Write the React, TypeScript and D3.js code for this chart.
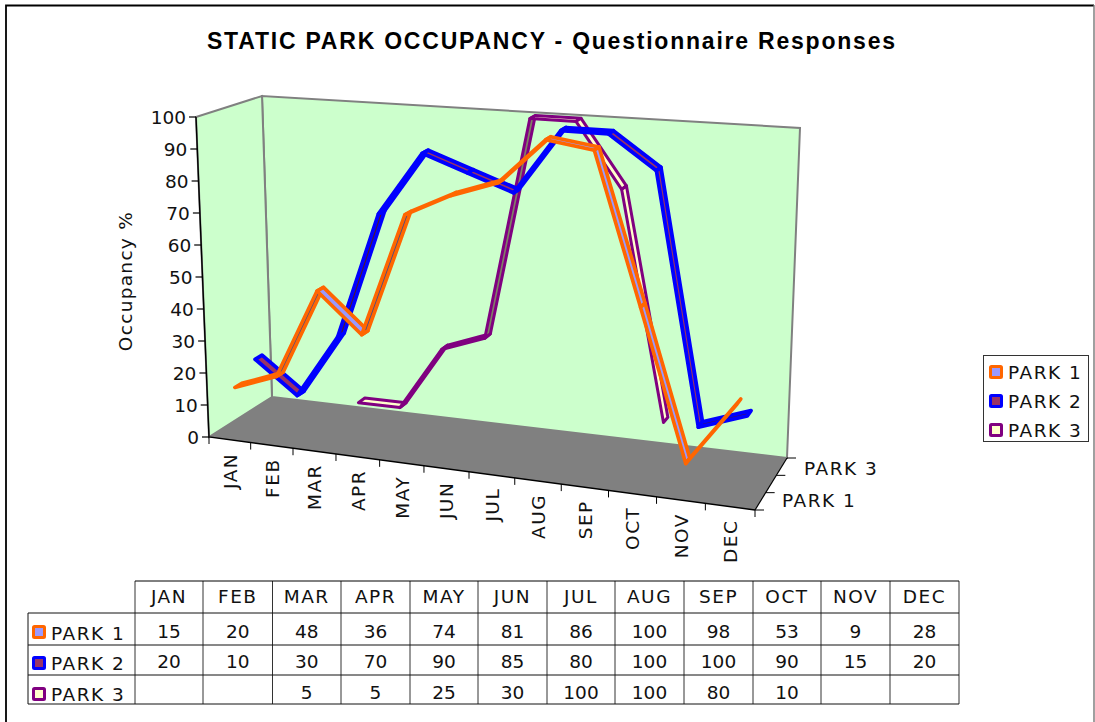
import React from "react";
import * as d3 from "d3";

const months = ["JAN","FEB","MAR","APR","MAY","JUN","JUL","AUG","SEP","OCT","NOV","DEC"];
const park1: (number|null)[] = [15,20,48,36,74,81,86,100,98,53,9,28];
const park2: (number|null)[] = [20,10,30,70,90,85,80,100,100,90,15,20];
const park3: (number|null)[] = [null,null,5,5,25,30,100,100,80,10,null,null];
const yTicks = [0,10,20,30,40,50,60,70,80,90,100];
const parkNames = ["PARK 1","PARK 2","PARK 3"];
const strokes = ["#FF6600","#0000FF","#800080"];
const fills = ["#9999FF","#993366","#FFFFCC"];
const seriesList = [park1,park2,park3];
const seriesDepth = [1/6,1/2,5/6];
const strokeW = [3.6,3.8,3];

const FONT = "'DejaVu Sans', Verdana, sans-serif";
const TXT = "#111";
const FS = 18.5;

const FBL:[number,number]=[209,437], FBR:[number,number]=[755,510];
const BBL:[number,number]=[272,397], BBR:[number,number]=[787,458];
const FTL:[number,number]=[196,117], FTR:[number,number]=[768,160];
const BTL:[number,number]=[262,96], BTR:[number,number]=[800,128];

const xScale = d3.scaleLinear().domain([0,12]).range([0,1]);
const vScale = d3.scaleLinear().domain([0,100]).range([0,1]);
const persp = (t:number)=> t/(1.1-0.1*t);
const mix=(a:[number,number],b:[number,number],t:number):[number,number]=>[a[0]+(b[0]-a[0])*t,a[1]+(b[1]-a[1])*t];
function project(m:number,d:number,v:number):[number,number]{
  const t=persp(xScale(m)), h=vScale(v);
  const bot=mix(mix(FBL,FBR,t),mix(BBL,BBR,t),d);
  const top=mix(mix(FTL,FTR,t),mix(BTL,BTR,t),d);
  return mix(bot,top,h);
}
const line = d3.line();
const poly=(p:[number,number][])=>line(p)+"Z";
const RW=0.056;

const colX=[135,203,272.5,341,410,478,547,615,684,753,821,890,959];
const rowY=[581,613,645,675,704];

function Key({x,y,i}:{x:number,y:number,i:number}){
  return <rect x={x-5.5} y={y-5.5} width={11} height={11} rx={1} fill={fills[i]} stroke={strokes[i]} strokeWidth={3}/>;
}
const darken=(c:string)=>{const r=d3.rgb(c);return d3.rgb(r.r*.5,r.g*.5,r.b*.5).formatHex();};

export default function App(){
  const segs:React.ReactNode[]=[];
  [2,1,0].forEach(s=>{
    const vals=seriesList[s]; const d=seriesDepth[s];
    for(let i=0;i<vals.length-1;i++){
      const a=vals[i], b=vals[i+1];
      if(a==null||b==null) continue;
      const p=poly([project(i+.5,d-RW,a),project(i+1.5,d-RW,b),project(i+1.5,d+RW,b),project(i+.5,d+RW,a)]);
      segs.push(<path key={s+"-"+i} d={p} fill={b>a?darken(fills[s]):fills[s]} stroke={strokes[s]} strokeWidth={strokeW[s]} strokeLinejoin="round"/>);
    }
  });
  const txt:any={fontFamily:FONT,fill:TXT};
  const lbl:any={...txt,letterSpacing:"1.5px"};
  return (
    <svg width={1095} height={722} style={{position:"absolute",left:0,top:0,background:"#fff"}}>
      <path d="M6,722V5.5H1094" fill="none" stroke="#000" strokeWidth={1.8}/>
      <line x1={1094} x2={1094} y1={5} y2={722} stroke="#777" strokeWidth={1.4}/>
      <text x={551} y={49} textAnchor="middle" fontSize={23} fontWeight={700} style={{fontFamily:"'Liberation Sans', Arial, sans-serif",fill:"#000"}} textLength={688} lengthAdjust="spacing">STATIC PARK OCCUPANCY - Questionnaire Responses</text>

      <path d={poly([BBL,BTL,BTR,BBR])} fill="#CCFFCC" stroke="#808080" strokeWidth={2}/>
      <path d={poly([FBL,FTL,BTL,BBL])} fill="#CCFFCC" stroke="#808080" strokeWidth={2}/>
      <path d={poly([FBL,FBR,BBR,BBL])} fill="#808080"/>
      <path d={line([FTL,FBL,FBR])!} fill="none" stroke="#000" strokeWidth={1.4}/>
      <path d={line([FBR,BBR])!} fill="none" stroke="#000" strokeWidth={1.2}/>

      {yTicks.map(v=>{
        const [x,y]=project(0,0,v);
        return <g key={v}>
          <line x1={x-7} x2={x} y1={y} y2={y} stroke="#000" strokeWidth={1.2}/>
          <text x={x-10} y={y+7} textAnchor="end" fontSize={FS} style={txt}>{v}</text>
        </g>;
      })}
      <text transform="translate(132,281) rotate(-90)" textAnchor="middle" fontSize={FS} style={{...txt,letterSpacing:"1.3px"}}>Occupancy %</text>

      {months.map((m,i)=>{
        const [x,y]=project(i,0,0);
        const [cx,cy]=project(i+.5,0,0);
        return <g key={m}>
          <line x1={x} x2={x} y1={y} y2={y+7} stroke="#000" strokeWidth={1}/>
          <text transform={`translate(${cx+7},${cy+13}) rotate(-90)`} textAnchor="end" fontSize={FS} style={lbl}>{m}</text>
        </g>;
      })}
      <line x1={FBR[0]} x2={FBR[0]} y1={FBR[1]} y2={FBR[1]+7} stroke="#000"/>

      {[0,1/3,2/3,1].map(d=>{
        const [x,y]=project(12,d,0);
        return <line key={d} x1={x} x2={x+9} y1={y} y2={y} stroke="#000" strokeWidth={1}/>;
      })}
      <text x={782} y={507} fontSize={FS} style={lbl}>PARK 1</text>
      <text x={804} y={475} fontSize={FS} style={lbl}>PARK 3</text>

      {segs}

      <rect x={983.5} y={355.5} width={105} height={86} fill="#fff" stroke="#333" strokeWidth={1}/>
      {parkNames.map((n,i)=>{
        const y=372+i*29;
        return <g key={n}>
          <Key x={996} y={y} i={i}/>
          <text x={1008} y={y+7} fontSize={FS} style={lbl}>{n}</text>
        </g>;
      })}

      {colX.map((x,i)=><line key={i} x1={x} x2={x} y1={rowY[0]} y2={rowY[4]} stroke="#333"/>)}
      <line x1={135} x2={959} y1={rowY[0]} y2={rowY[0]} stroke="#000"/>
      {rowY.slice(1).map((y,i)=><line key={i} x1={28} x2={959} y1={y} y2={y} stroke="#111"/>)}
      <line x1={28} x2={28} y1={rowY[1]} y2={rowY[4]} stroke="#111"/>
      {months.map((m,i)=>{
        const cx=(colX[i]+colX[i+1])/2;
        return <text key={m} x={cx} y={603} textAnchor="middle" fontSize={FS} style={lbl}>{m}</text>;
      })}
      {seriesList.map((vals,s)=>{
        const ty=[640,670,701][s]; const vy=[638,668,699][s]; const ky=[632,663,694][s];
        return <g key={s}>
          <Key x={39} y={ky} i={s}/>
          <text x={51} y={ty} fontSize={FS} style={lbl}>{parkNames[s]}</text>
          {vals.map((v,i)=> v==null?null:<text key={i} x={(colX[i]+colX[i+1])/2} y={vy} textAnchor="middle" fontSize={FS} style={txt}>{v}</text>)}
        </g>;
      })}
    </svg>
  );
}
